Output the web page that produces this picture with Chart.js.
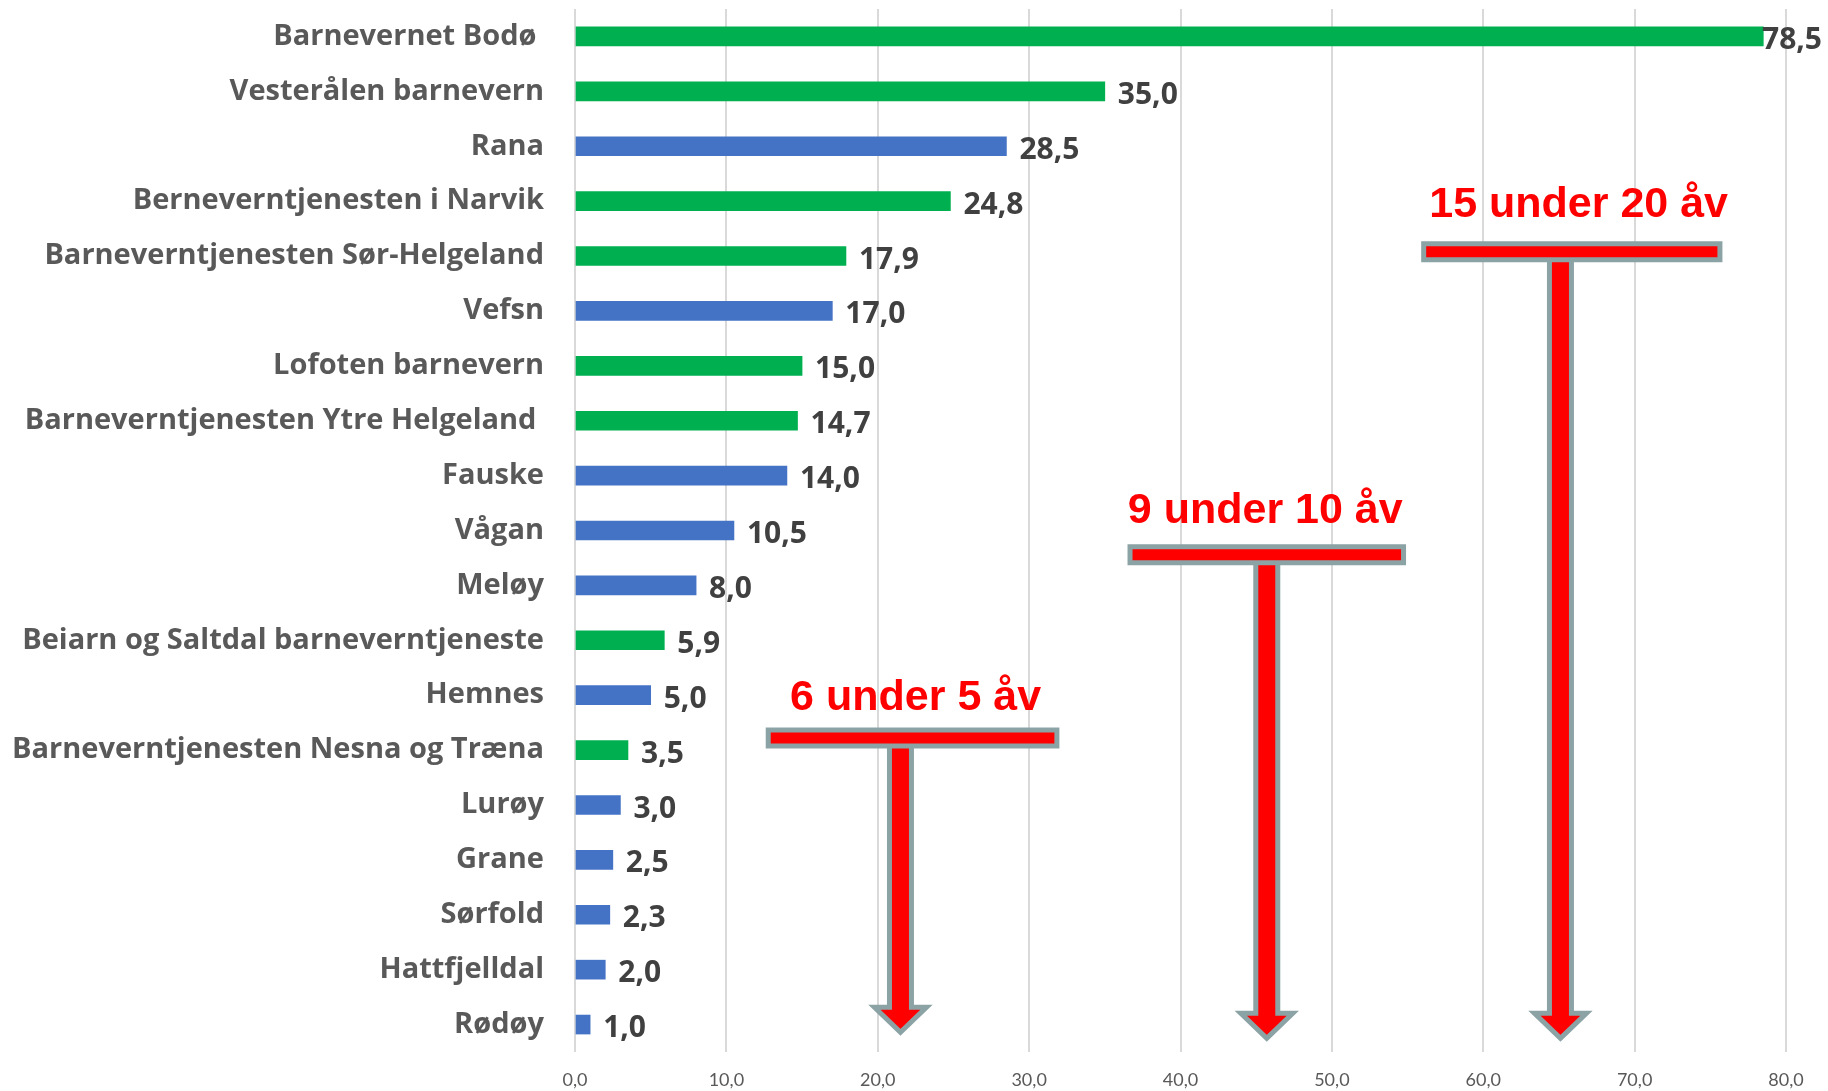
<!DOCTYPE html>
<html>
<head>
<meta charset="utf-8">
<script src="https://cdn.jsdelivr.net/npm/chart.js@4.4.1/dist/chart.umd.min.js"></script>
<style>
html,body{margin:0;padding:0;background:#fff;}
#wrap{width:1828px;height:1091px;position:relative;}
</style>
</head>
<body>
<div id="wrap"><canvas id="chart"></canvas></div>
<script>
// data
const tjenester = [
  'Barnevernet Bodø ', 'Vesterålen barnevern', 'Rana', 'Berneverntjenesten i Narvik',
  'Barneverntjenesten Sør-Helgeland', 'Vefsn', 'Lofoten barnevern', 'Barneverntjenesten Ytre Helgeland ',
  'Fauske', 'Vågan', 'Meløy', 'Beiarn og Saltdal barneverntjeneste', 'Hemnes',
  'Barneverntjenesten Nesna og Træna', 'Lurøy', 'Grane', 'Sørfold', 'Hattfjelldal', 'Rødøy'
];
const verdier = [78.5, 35.0, 28.5, 24.8, 17.9, 17.0, 15.0, 14.7, 14.0, 10.5, 8.0, 5.9, 5.0, 3.5, 3.0, 2.5, 2.3, 2.0, 1.0];
const interkommunal = [true, true, false, true, true, false, true, true, false, false, false, true, false, true, false, false, false, false, false];
const xMin = 0, xMax = 80, xStep = 10;

// T-arrows, in axis units (x = value, y = category index)
const merknader = [
  { text: '6 under 5 åv',   left: 12.6, right: 32.0, shaft: 21.5, textX: 22.5, barY: 12.78, textY: 12.27, tipY: 18.14 },
  { text: '9 under 10 åv',  left: 36.5, right: 54.9, shaft: 45.7, textX: 45.6, barY: 9.44,  textY: 8.87,  tipY: 18.25 },
  { text: '15 under 20 åv', left: 55.9, right: 75.8, shaft: 65.1, textX: 66.3, barY: 3.92,  textY: 3.28,  tipY: 18.25 }
];

const GREEN = '#00B050', BLUE = '#4472C4';
const komma = v => v.toFixed(1).replace('.', ',');

const dataLabels = {
  id: 'dataLabels',
  afterDatasetsDraw(chart){
    const ctx = chart.ctx;
    const meta = chart.getDatasetMeta(0);
    ctx.save();
    ctx.font = 'bold 30px "Open Sans"';
    ctx.fillStyle = '#404040';
    ctx.textBaseline = 'middle';
    ctx.textAlign = 'left';
    meta.data.forEach((el, i) => {
      const t = komma(verdier[i]);
      const w = ctx.measureText(t).width;
      let x = el.x + 13;
      if (x + w > chart.width - 6) x = chart.width - 6 - w;
      ctx.fillText(t, x, el.y + 4);
    });
    ctx.restore();
  }
};

const tArrows = {
  id: 'tArrows',
  afterDatasetsDraw(chart){
    const ctx = chart.ctx, xs = chart.scales.x, ys = chart.scales.y;
    ctx.save();
    ctx.lineWidth = 5;
    ctx.strokeStyle = '#8CA3A5';
    ctx.fillStyle = '#FF0000';
    ctx.lineJoin = 'miter';
    merknader.forEach(m => {
      const l = xs.getPixelForValue(m.left), r = xs.getPixelForValue(m.right);
      const sx = xs.getPixelForValue(m.shaft);
      const by = ys.getPixelForValue(m.barY);
      const tip = ys.getPixelForValue(m.tipY);
      const sw = 11, hw = 26, hh = 25, bh = 8;
      // shaft + head
      ctx.beginPath();
      ctx.moveTo(sx - sw, by);
      ctx.lineTo(sx + sw, by);
      ctx.lineTo(sx + sw, tip - hh);
      ctx.lineTo(sx + hw, tip - hh);
      ctx.lineTo(sx, tip);
      ctx.lineTo(sx - hw, tip - hh);
      ctx.lineTo(sx - sw, tip - hh);
      ctx.closePath();
      ctx.fill();
      ctx.stroke();
      // crossbar
      ctx.beginPath();
      ctx.rect(l + 2.5, by - bh, r - l - 5, bh * 2);
      ctx.fill();
      ctx.stroke();
      // text
      ctx.font = 'bold 43px "Liberation Sans", Arial';
      ctx.textAlign = 'center';
      ctx.textBaseline = 'alphabetic';
      ctx.fillText(m.text, xs.getPixelForValue(m.textX), ys.getPixelForValue(m.textY));
    });
    ctx.restore();
  }
};

new Chart(document.getElementById('chart'), {
  type: 'bar',
  data: {
    labels: tjenester,
    datasets: [{
      data: verdier,
      backgroundColor: interkommunal.map(k => k ? GREEN : BLUE),
      borderWidth: 0,
      barThickness: 19
    }]
  },
  options: {
    indexAxis: 'y',
    responsive: true,
    maintainAspectRatio: false,
    animation: false,
    layout: { padding: { top: 9, right: 42, bottom: 0, left: 0 } },
    plugins: { legend: { display: false }, tooltip: { enabled: false } },
    scales: {
      x: {
        min: xMin, max: xMax,
        grid: { color: '#D9D9D9', lineWidth: 2, drawTicks: false },
        border: { display: false },
        ticks: {
          stepSize: xStep, padding: 17,
          color: '#595959', font: { family: 'Lato', size: 18 },
          callback: v => komma(v)
        },
        afterFit: s => { s.height = 39; s.paddingLeft = 0; s.paddingRight = 0; }
      },
      y: {
        grid: { display: false, drawTicks: false },
        border: { display: false },
        ticks: { padding: 31, color: '#595959', font: { family: 'Open Sans', size: 29, weight: 'bold' }, autoSkip: false },
        afterFit: s => { s.width = 575; s.paddingTop = 0; s.paddingBottom = 0; }
      }
    }
  },
  plugins: [dataLabels, tArrows]
});
</script>
</body>
</html>
